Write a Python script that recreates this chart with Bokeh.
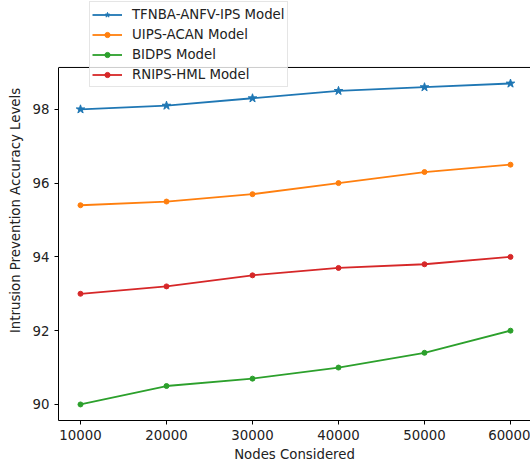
from bokeh.plotting import figure
from bokeh.models import Range1d, FixedTicker, Legend, LegendItem, Span
from bokeh.embed import file_html
from bokeh.resources import INLINE

nodes = [10000, 20000, 30000, 40000, 50000, 60000]
tfnba = [98.0, 98.1, 98.3, 98.5, 98.6, 98.7]
uips = [95.4, 95.5, 95.7, 96.0, 96.3, 96.5]
bidps = [90.0, 90.5, 90.7, 91.0, 91.4, 92.0]
rnips = [93.0, 93.2, 93.5, 93.7, 93.8, 94.0]
x_ticks = [10000, 20000, 30000, 40000, 50000, 60000]
y_ticks = [90, 92, 94, 96, 98]

FONT = "DejaVu Sans"
FS = "13.3px"
Y_LO, Y_HI = 89.565, 99.135   # axes box limits

p = figure(width=530, height=466, output_backend="svg", toolbar_location=None,
           x_range=Range1d(7442, 62326), y_range=Range1d(Y_LO, 100.95),
           min_border_left=58, min_border_right=0, min_border_top=0, min_border_bottom=46)
p.xgrid.visible = False
p.ygrid.visible = False
p.outline_line_color = None

for ax in (p.xaxis[0], p.yaxis[0]):
    ax.major_label_text_font = FONT
    ax.major_label_text_font_size = FS
    ax.major_label_text_color = "#222222"
    ax.axis_label_text_font = FONT
    ax.axis_label_text_font_size = FS
    ax.axis_label_text_font_style = "normal"
    ax.axis_label_text_color = "#222222"
    ax.minor_tick_line_color = None
    ax.major_tick_in = 0
    ax.major_tick_out = 4
    ax.axis_line_color = "black"
    ax.major_tick_line_color = "black"

p.xaxis.ticker = FixedTicker(ticks=x_ticks)
p.yaxis.ticker = FixedTicker(ticks=y_ticks)
p.yaxis.bounds = (Y_LO, Y_HI)
p.xaxis.axis_label = "Nodes Considered"
p.yaxis.axis_label = "Intrusion Prevention Accuracy Levels"
p.xaxis.axis_label_standoff = 4
p.yaxis.axis_label_standoff = 7

p.add_layout(Span(location=Y_HI, dimension="width", line_color="black", line_width=1))

series = [
    ("TFNBA-ANFV-IPS Model", tfnba, "#1f77b4", "star", 9),
    ("UIPS-ACAN Model", uips, "#ff7f0e", "circle", 5),
    ("BIDPS Model", bidps, "#2ca02c", "circle", 5),
    ("RNIPS-HML Model", rnips, "#d62728", "circle", 5),
]
items = []
for name, ys, col, mk, sz in series:
    l = p.line(nodes, ys, line_color=col, line_width=1.8)
    s = p.scatter(nodes, ys, marker=mk, size=sz, fill_color=col, line_color=col)
    items.append(LegendItem(label=name, renderers=[l, s]))

leg = Legend(items=items, location=(31, 333))
leg.label_text_font = FONT
leg.label_text_font_size = FS
leg.label_text_color = "#222222"
leg.glyph_width = 30
leg.glyph_height = 13
leg.label_height = 20
leg.spacing = 0
leg.padding = 2
leg.margin = 0
leg.label_standoff = 10
leg.border_line_color = "#cccccc"
leg.background_fill_alpha = 0.8
p.add_layout(leg, "center")

open("out.html", "w").write(file_html(p, INLINE))
